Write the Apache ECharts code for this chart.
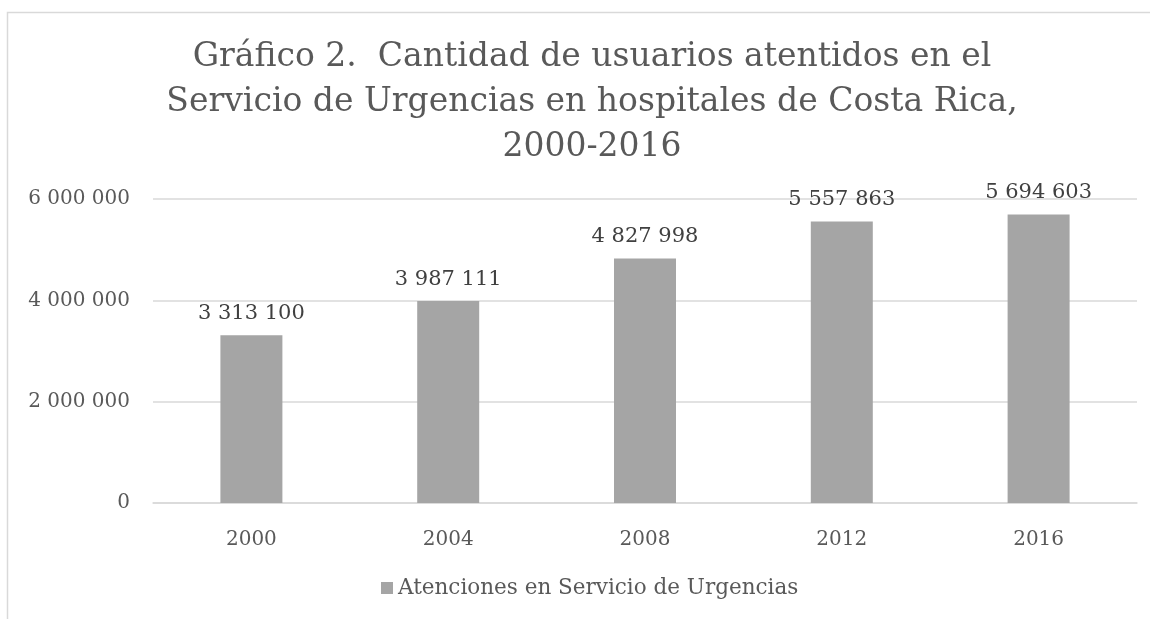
<!DOCTYPE html>
<html>
<head>
<meta charset="utf-8">
<script src="https://cdn.jsdelivr.net/npm/echarts@6/dist/echarts.min.js"></script>
<style>
  html, body { margin: 0; padding: 0; background: #fff; }
  #chart { width: 1150px; height: 619px; }
</style>
</head>
<body>
<div id="chart"></div>
<script>
// datos del gráfico
var years = ['2000', '2004', '2008', '2012', '2016'];
var atenciones = [3313100, 3987111, 4827998, 5557863, 5694603];
var seriesName = 'Atenciones en Servicio de Urgencias';
var titleText = 'Gráfico 2.  Cantidad de usuarios atentidos en el\nServicio de Urgencias en hospitales de Costa Rica,\n2000-2016';

var FONT = '"DejaVu Serif", serif';
var TXT = '#595959';

// separador de miles con espacio
function fmt(v) {
    return String(v).replace(/\B(?=(\d{3})+(?!\d))/g, ' ');
}

var chart = echarts.init(document.getElementById('chart'));
var option = {
    backgroundColor: '#fff',
    animation: false,
    textStyle: { fontFamily: FONT, color: TXT },
    graphic: [{
        type: 'rect',
        shape: { x: 7.5, y: 12.5, width: 1200, height: 700 },
        style: { fill: 'none', stroke: '#d9d9d9', lineWidth: 1.5 },
        silent: true
    }],
    title: {
        text: titleText,
        left: 587,
        textAlign: 'center',
        top: 30,
        textStyle: {
            fontFamily: FONT,
            fontWeight: 'normal',
            fontSize: 33,
            lineHeight: 45,
            color: TXT
        }
    },
    legend: {
        bottom: 15,
        left: 376,
        itemWidth: 12,
        itemHeight: 12,
        itemGap: 10,
        icon: 'rect',
        textStyle: { fontFamily: FONT, fontSize: 21.5, color: TXT },
        data: [seriesName]
    },
    grid: {
        left: 153,
        right: 13,
        top: 199,
        bottom: 116
    },
    xAxis: {
        type: 'category',
        data: years,
        axisLine: { lineStyle: { color: '#d9d9d9', width: 1.5 } },
        axisTick: { show: false },
        axisLabel: { fontFamily: FONT, fontSize: 20, color: TXT, margin: 27 }
    },
    yAxis: {
        type: 'value',
        min: 0,
        max: 6000000,
        interval: 2000000,
        axisLine: { show: false },
        axisTick: { show: false },
        splitLine: { lineStyle: { color: '#d9d9d9', width: 1.5 } },
        axisLabel: {
            fontFamily: FONT, fontSize: 20, color: TXT, margin: 23,
            formatter: function (v) { return fmt(v); }
        }
    },
    series: [{
        name: seriesName,
        type: 'bar',
        data: atenciones,
        barWidth: 62,
        itemStyle: { color: '#a5a5a5' },
        label: {
            show: true,
            position: 'top',
            distance: 11,
            fontFamily: FONT,
            fontSize: 21,
            color: '#404040',
            formatter: function (p) { return fmt(p.value); }
        }
    }]
};
chart.setOption(option);
</script>
</body>
</html>
